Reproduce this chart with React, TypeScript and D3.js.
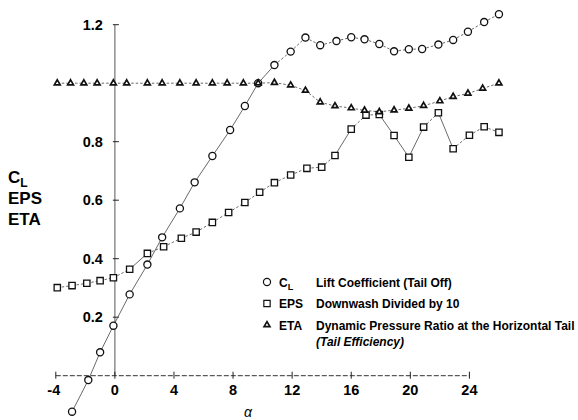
import React, { useEffect, useRef } from 'react';
import * as d3 from 'd3';

// Lift coefficient (tail off)
const CL_ALPHA = [-2.9, -1.8, -1.0, -0.1, 1.0, 2.2, 3.2, 4.4, 5.4, 6.6, 7.8, 8.8, 9.7, 10.8, 11.9, 12.9, 13.9, 15.0, 16.0, 16.9, 17.9, 18.9, 19.9, 20.8, 21.9, 22.9, 23.9, 25.0, 26.0];
const CL = [-0.123, -0.015, 0.080, 0.171, 0.278, 0.380, 0.473, 0.572, 0.661, 0.751, 0.840, 0.922, 1.000, 1.062, 1.108, 1.156, 1.130, 1.144, 1.157, 1.150, 1.134, 1.109, 1.116, 1.117, 1.132, 1.148, 1.176, 1.209, 1.236];

// Downwash divided by 10
const EPS_ALPHA = [-3.9, -2.9, -1.9, -1.0, -0.1, 1.0, 2.2, 3.3, 4.5, 5.5, 6.6, 7.7, 8.8, 9.8, 10.8, 11.9, 13.0, 14.0, 14.9, 16.0, 17.0, 17.9, 18.9, 19.9, 20.9, 21.9, 22.9, 24.0, 25.0, 26.0];
const EPS = [0.301, 0.308, 0.316, 0.325, 0.335, 0.364, 0.418, 0.441, 0.470, 0.491, 0.524, 0.558, 0.592, 0.627, 0.660, 0.686, 0.709, 0.713, 0.753, 0.843, 0.891, 0.893, 0.821, 0.747, 0.850, 0.899, 0.776, 0.822, 0.851, 0.832];

// Dynamic pressure ratio at the horizontal tail
const ETA_ALPHA = [-3.9, -3.0, -2.1, -1.2, -0.1, 0.8, 2.2, 3.2, 4.4, 5.5, 6.6, 7.6, 8.7, 9.7, 10.8, 11.9, 12.9, 13.9, 14.9, 16.0, 16.9, 17.9, 18.9, 19.9, 20.9, 22.0, 22.9, 23.9, 24.9, 26.0];
const ETA = [1.0, 1.0, 1.0, 1.0, 1.0, 1.0, 1.0, 1.0, 1.0, 1.0, 1.0, 1.0, 1.0, 1.0, 1.002, 0.993, 0.975, 0.935, 0.922, 0.915, 0.907, 0.902, 0.908, 0.914, 0.923, 0.939, 0.954, 0.965, 0.982, 1.0];

const X_TICKS = [-4, 0, 4, 8, 12, 16, 20, 24];
const Y_TICKS = [0.2, 0.4, 0.6, 0.8, 1.2];

const FONT = '"Liberation Sans", Arial, Helvetica, sans-serif';

type Pt = { a: number; v: number };

const App: React.FC = () => {
  const svgRef = useRef<SVGSVGElement>(null);

  useEffect(() => {
    if (!svgRef.current) return;
    const svg = d3.select(svgRef.current);
    svg.selectAll('*').remove();

    const x = d3.scaleLinear().domain([-4, 24]).range([55.8, 469.4]);
    const y = d3.scaleLinear().domain([0, 1.2]).range([375.7, 24.7]);
    const x0 = x(0);
    const y0 = y(0);

    const g = svg.append('g');

    // axes
    g.append('line')
      .attr('x1', x0).attr('x2', x0)
      .attr('y1', y0).attr('y2', y(1.2))
      .attr('stroke', '#666').attr('stroke-width', 1.1);

    g.append('line')
      .attr('x1', x(-4)).attr('x2', x(24))
      .attr('y1', y0).attr('y2', y0)
      .attr('stroke', '#333').attr('stroke-width', 1)
      .attr('stroke-dasharray', '5,2');

    g.selectAll('.ytick')
      .data(Y_TICKS)
      .enter()
      .append('line')
      .attr('x1', x0 - 2).attr('x2', x0 + 4)
      .attr('y1', d => y(d)).attr('y2', d => y(d))
      .attr('stroke', '#222').attr('stroke-width', 1);

    g.selectAll('.ylab')
      .data(Y_TICKS)
      .enter()
      .append('text')
      .attr('x', x0 - 12)
      .attr('y', d => y(d) + 5)
      .attr('text-anchor', 'end')
      .attr('font-family', FONT)
      .attr('font-weight', 'bold')
      .attr('font-size', 14.5)
      .text(d => d.toFixed(1));

    g.selectAll('.xtick')
      .data(X_TICKS)
      .enter()
      .append('line')
      .attr('x1', d => x(d)).attr('x2', d => x(d))
      .attr('y1', y0 - 4).attr('y2', y0 + 3)
      .attr('stroke', '#222').attr('stroke-width', 1);

    g.selectAll('.xlab')
      .data(X_TICKS)
      .enter()
      .append('text')
      .attr('x', d => x(d) - (d < 0 ? 2 : 0))
      .attr('y', 395)
      .attr('text-anchor', 'middle')
      .attr('font-family', FONT)
      .attr('font-weight', 'bold')
      .attr('font-size', 14.5)
      .text(d => String(d));

    g.append('text')
      .attr('x', 248).attr('y', 417)
      .attr('text-anchor', 'middle')
      .attr('font-family', FONT)
      .attr('font-style', 'italic')
      .attr('font-size', 14)
      .text('α');

    // y title
    const title = g.append('g')
      .attr('font-family', FONT)
      .attr('font-weight', 'bold')
      .attr('font-size', 17);
    const cl = title.append('text').attr('x', 8).attr('y', 183);
    cl.append('tspan').text('C');
    cl.append('tspan').attr('font-size', 12).attr('dy', 4).text('L');
    title.append('text').attr('x', 8).attr('y', 204).text('EPS');
    title.append('text').attr('x', 8).attr('y', 225).text('ETA');

    const series: { pts: Pt[]; shape: string }[] = [
      { pts: CL_ALPHA.map((a, i) => ({ a, v: CL[i] })), shape: 'circle' },
      { pts: EPS_ALPHA.map((a, i) => ({ a, v: EPS[i] })), shape: 'square' },
      { pts: ETA_ALPHA.map((a, i) => ({ a, v: ETA[i] })), shape: 'triangle' },
    ];

    // connecting lines: long segments come out solid, short ones dashed
    series.forEach(s => {
      d3.pairs(s.pts).forEach(([p, q]) => {
        const len = Math.hypot(x(q.a) - x(p.a), y(q.v) - y(p.v));
        g.append('line')
          .attr('x1', x(p.a)).attr('y1', y(p.v))
          .attr('x2', x(q.a)).attr('y2', y(q.v))
          .attr('stroke', '#444')
          .attr('stroke-width', 0.8)
          .attr('stroke-dasharray', len > 22 ? null : '2.5,2');
      });
    });

    const symbolFor = (shape: string) => {
      if (shape === 'square') return d3.symbol().type(d3.symbolSquare).size(40)();
      if (shape === 'triangle') return d3.symbol().type(d3.symbolTriangle).size(15)();
      return d3.symbol().type(d3.symbolCircle).size(40)();
    };

    series.forEach(s => {
      g.selectAll(null)
        .data(s.pts)
        .enter()
        .append('path')
        .attr('transform', d => `translate(${x(d.a)},${y(d.v)})`)
        .attr('d', symbolFor(s.shape))
        .attr('fill', '#fff')
        .attr('stroke', '#111')
        .attr('stroke-width', s.shape === 'triangle' ? 1.7 : 1.3);
    });

    // legend
    const legendRows = [
      { shape: 'circle', key: 'C', sub: 'L', text: 'Lift Coefficient (Tail Off)', yc: 282 },
      { shape: 'square', key: 'EPS', sub: '', text: 'Downwash Divided by 10', yc: 303.5 },
      { shape: 'triangle', key: 'ETA', sub: '', text: 'Dynamic Pressure Ratio at the Horizontal Tail', yc: 325 },
    ];
    const leg = g.append('g')
      .attr('font-family', FONT)
      .attr('font-weight', 'bold')
      .attr('font-size', 12);
    legendRows.forEach(r => {
      leg.append('path')
        .attr('transform', `translate(267,${r.yc})`)
        .attr('d', symbolFor(r.shape))
        .attr('fill', '#fff')
        .attr('stroke', '#111')
        .attr('stroke-width', r.shape === 'triangle' ? 1.7 : 1.2);
      const k = leg.append('text').attr('x', 279).attr('y', r.yc + 4.5);
      k.append('tspan').text(r.key);
      if (r.sub) k.append('tspan').attr('font-size', 9).attr('dy', 3).text(r.sub);
      leg.append('text').attr('x', 316).attr('y', r.yc + 4.5).text(r.text);
    });
    leg.append('text')
      .attr('x', 316).attr('y', 346)
      .attr('font-style', 'italic')
      .text('(Tail Efficiency)');
  }, []);

  return (
    <svg
      ref={svgRef}
      width={578}
      height={420}
      style={{ position: 'absolute', left: 0, top: 0, background: '#fff' }}
    />
  );
};

export default App;
